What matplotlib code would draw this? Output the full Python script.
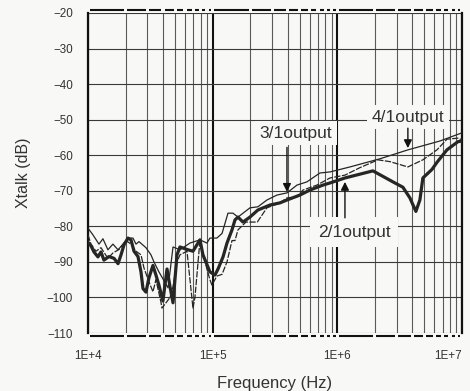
import matplotlib
matplotlib.use("Agg")
import matplotlib.pyplot as plt
import matplotlib.transforms as mtransforms
from matplotlib.ticker import LogLocator, FixedLocator, NullFormatter

plt.rcParams['font.family'] = ['Liberation Sans', 'DejaVu Sans']

# 2/1output (thick line)
freq_21 = [10000, 10570, 11170, 12020, 12710, 13430, 14720, 16180, 17420, 18410,
           19450, 20940, 22130, 23390, 25180, 26610, 27610, 29170, 30830, 33190,
           35080, 37070, 39900, 43050, 45500, 48080, 51760, 54700, 62230, 69500,
           79070, 83560, 95060, 104300, 110400, 121100, 130300, 142900, 151000, 159600,
           175000, 199100, 230700, 288400, 346700, 394500, 501200, 602600, 767000, 873000,
           1151000, 1928000, 2793000, 3357000, 3819000, 4266000, 4592000, 4853000, 5741000, 6295000,
           7568000, 9268000, 10000000]
db_21 = [-84.5, -85.5, -87.2, -88.6, -87.2, -89.5, -88.5, -89.0, -90.5, -88.0,
         -85.2, -83.3, -83.8, -87.0, -88.5, -92.8, -97.5, -98.5, -94.5, -91.0,
         -93.7, -96.5, -101.0, -92.0, -97.0, -101.5, -88.0, -85.8, -86.5, -87.0,
         -83.8, -88.0, -92.8, -93.7, -92.0, -88.6, -84.7, -81.0, -78.2, -77.4,
         -78.8, -77.4, -75.4, -74.0, -73.4, -72.6, -71.2, -69.8, -68.4, -67.8,
         -66.4, -64.4, -67.5, -69.0, -72.0, -75.8, -72.6, -66.4, -64.0, -62.0,
         -58.5, -56.2, -56.0]

# 4/1output (thin line)
freq_41 = [10000, 10960, 12250, 13180, 14450, 15850, 17420, 19100, 20940, 22960,
           24270, 25650, 29170, 31990, 33810, 37070, 43900, 48080, 54700, 65770,
           79070, 89950, 95060, 108100, 118900, 132700, 145500, 159600, 199100, 230700,
           272300, 327800, 394500, 474300, 570200, 724400, 873000, 1262000, 2198000, 3681000,
           6653000, 10000000]
db_41 = [-80.5, -82.4, -85.0, -83.5, -86.6, -85.0, -86.6, -85.0, -83.3, -83.3,
         -85.0, -84.3, -86.0, -88.0, -90.0, -92.8, -97.3, -85.8, -86.6, -84.7,
         -83.8, -84.7, -83.3, -83.3, -82.0, -76.3, -76.3, -77.4, -74.8, -74.5,
         -72.6, -71.2, -70.6, -68.4, -67.5, -65.0, -64.7, -63.3, -61.0, -58.5,
         -56.0, -53.7]

# 3/1output (thin dashed line)
freq_31 = [10000, 10570, 11590, 12710, 14450, 15850, 17740, 20180, 22130, 24270,
           26610, 28120, 30830, 33190, 35080, 38460, 39200, 45500, 48080, 51760,
           54700, 62230, 65770, 69500, 72110, 79070, 89950, 95060, 98630, 108100,
           118900, 130300, 142900, 151000, 159600, 185000, 228000, 272300, 346700, 394500,
           474300, 530000, 686000, 873000, 1151000, 1517000, 2118000, 2640000, 3681000, 4853000,
           6295000, 7568000, 9268000, 10000000]
db_31 = [-82.4, -85.0, -87.0, -86.0, -89.0, -87.5, -86.5, -84.0, -85.0, -87.0,
         -88.0, -91.7, -95.6, -98.4, -95.0, -101.3, -103.0, -100.0, -97.0, -90.0,
         -88.0, -87.0, -95.0, -103.0, -100.0, -84.0, -92.0, -95.0, -96.5, -94.0,
         -93.5, -90.0, -84.0, -84.0, -81.0, -78.8, -78.8, -74.8, -73.4, -72.0,
         -71.7, -69.8, -68.4, -66.4, -65.6, -63.5, -61.3, -61.8, -63.3, -61.3,
         -58.5, -55.5, -55.2, -55.7]

decade_ticks = [1e4, 1e5, 1e6, 1e7]
decade_labels = ['1E+4', '1E+5', '1E+6', '1E+7']
y_ticks = list(range(-110, -19, 10))

bg = '#f8f8f6'
ink = '#262626'

fig = plt.figure(figsize=(4.7, 3.91), dpi=100, facecolor=bg)
ax = fig.add_axes([0.1872, 0.1483, 0.7958, 0.8185], facecolor=bg)
ax.set_xscale('log')
ax.set_xlim(1e4, 1e7)
ax.set_ylim(-110, -20)

# grid
ax.xaxis.set_major_locator(FixedLocator(decade_ticks))
ax.xaxis.set_minor_locator(LogLocator(base=10, subs=range(2, 10)))
ax.xaxis.set_minor_formatter(NullFormatter())
ax.set_xticklabels(decade_labels)
ax.set_yticks(y_ticks)
ax.grid(which='minor', axis='x', color='#5a5a5a', lw=0.8)
ax.grid(which='major', axis='x', color='#111111', lw=1.5)
ax.grid(which='major', axis='y', color='#3a3a3a', lw=0.8)
ax.tick_params(which='both', length=0)
ax.tick_params(axis='x', labelsize=8.4, pad=12, colors='#333333')
ax.tick_params(axis='y', labelsize=8.4, pad=11, colors='#333333')
# last label sits at the right edge: anchor it by its right side so it stays on the page
ax.get_xticklabels()[-1].set_horizontalalignment('right')

for side in ('top', 'bottom'):
    ax.spines[side].set_visible(False)
for side in ('left', 'right'):
    ax.spines[side].set_linewidth(1.6)
    ax.spines[side].set_color('#111111')

# broken top/bottom frame just outside the plot, gaps where the vertical grid lines sit
trans = mtransforms.blended_transform_factory(ax.transData, ax.transAxes)
grid_pos = [k * 10 ** d for d in (4, 5, 6) for k in range(1, 10)] + [1e7]
g = 10 ** (1.6 / 124.7)
for a, b in zip(grid_pos[:-1], grid_pos[1:]):
    for yy in (1 + 2.5 / 320, -2.5 / 320):
        ax.plot([a * g, b / g], [yy, yy], color='#111111', lw=1.5, transform=trans,
                solid_capstyle='butt', clip_on=False, zorder=3)

ax.plot(freq_41, db_41, color=ink, lw=0.9, zorder=4)
ax.plot(freq_31, db_31, color=ink, lw=0.9, ls=(0, (5, 1.2)), zorder=4)
ax.plot(freq_21, db_21, color=ink, lw=2.3, zorder=5)

box = dict(boxstyle='square,pad=0.25', fc=bg, ec='none')
arrow = dict(arrowstyle='-|>', color='#111111', lw=1.0, mutation_scale=12,
             shrinkA=0, shrinkB=0)

ax.text(3.68e6, -49.3, '4/1output', fontsize=12.5, ha='center', va='center',
        color='#333333', bbox=box, zorder=6)
ax.annotate('', xy=(3.68e6, -58.0), xytext=(3.68e6, -52.4), arrowprops=arrow, zorder=6)

ax.text(4.66e5, -53.8, '3/1output', fontsize=12.5, ha='center', va='center',
        color='#333333', bbox=box, zorder=6)
ax.annotate('', xy=(3.945e5, -70.3), xytext=(3.945e5, -57.8), arrowprops=arrow, zorder=6)

ax.text(1.36e6, -81.6, '2/1output', fontsize=12.5, ha='center', va='center',
        color='#333333', bbox=dict(boxstyle='square,pad=0.45', fc=bg, ec='none'), zorder=6)
ax.annotate('', xy=(1.151e6, -67.5), xytext=(1.151e6, -77.6), arrowprops=arrow, zorder=6)

ax.set_xlabel('Frequency (Hz)', fontsize=12, color='#333333', labelpad=10)
ax.set_ylabel('Xtalk (dB)', fontsize=11.5, color='#333333', labelpad=11)

fig.savefig('out.png', dpi=100, facecolor=bg)
